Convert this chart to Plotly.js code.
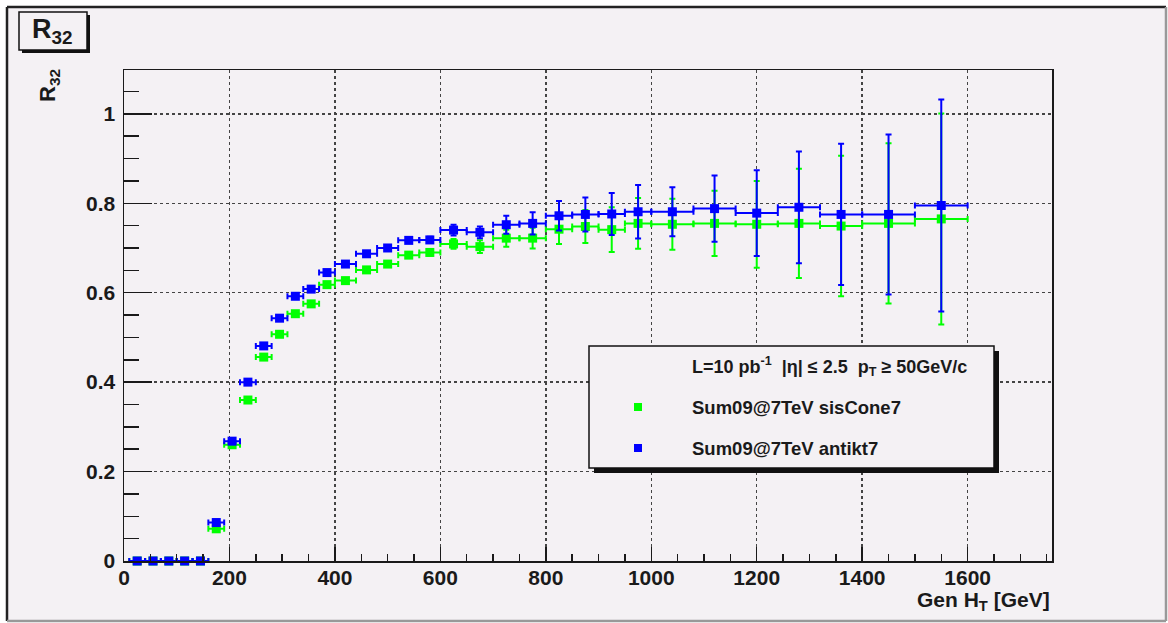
<!DOCTYPE html>
<html><head><meta charset="utf-8">
<script src="https://cdn.plot.ly/plotly-3.0.1.min.js"></script>
<style>html,body{margin:0;padding:0;background:#fff;} #chart{width:1168px;height:623px;}</style>
</head><body><div id="chart"></div>
<script>
// ---- data ----
const htBins = [25,55,85,115,145,175,205,235,265,295,325,355,385,420,460,500,540,580,625,675,725,775,825,875,925,975,1040,1120,1200,1280,1360,1450,1550];
const binHalfWidth = [15,15,15,15,15,15,15,15,15,15,15,15,15,20,20,20,20,20,25,25,25,25,25,25,25,25,40,40,40,40,40,50,50];
const r32SisCone = [0,0,0,0,0,0.072,0.260,0.360,0.456,0.507,0.553,0.575,0.618,0.627,0.651,0.664,0.684,0.690,0.709,0.703,0.722,0.722,0.742,0.748,0.741,0.755,0.753,0.755,0.753,0.755,0.749,0.755,0.765];
const r32SisConeErr = [0,0,0,0,0,0.006,0.005,0.005,0.005,0.005,0.005,0.005,0.005,0.005,0.005,0.006,0.006,0.007,0.011,0.014,0.019,0.023,0.033,0.037,0.05,0.057,0.057,0.073,0.097,0.122,0.157,0.179,0.236];
const r32AntiKt = [0,0,0,0,0,0.086,0.268,0.400,0.481,0.543,0.592,0.608,0.645,0.664,0.687,0.700,0.717,0.718,0.740,0.735,0.752,0.755,0.772,0.775,0.776,0.781,0.781,0.788,0.778,0.791,0.775,0.775,0.795];
const r32AntiKtErr = [0,0,0,0,0,0.006,0.005,0.005,0.005,0.005,0.005,0.005,0.005,0.005,0.005,0.006,0.006,0.007,0.012,0.013,0.02,0.025,0.033,0.038,0.047,0.06,0.055,0.074,0.096,0.125,0.158,0.179,0.237];
const seriesNames = ["Sum09@7TeV sisCone7", "Sum09@7TeV antikt7"];
const seriesColors = ["#00ff00", "#0000ff"];
const xTickVals = [0,200,400,600,800,1000,1200,1400,1600];
const yTickVals = [0,0.2,0.4,0.6,0.8,1];
const legendHeader = "L=10 pb<sup>-1</sup>\u00a0\u00a0|η| ≤ 2.5\u00a0\u00a0p<sub>T</sub> ≥ 50GeV/c";

// ---- layout geometry (pixels) ----
const W = 1168, H = 623, L = 124, R = 1052, T = 70, B = 561;
const PW = R - L, PH = B - T;
const px = x => (x - L) / PW;
const py = y => (B - y) / PH;
const FONT = '"Liberation Sans", Arial, Helvetica, sans-serif';
const BG = '#f4f1f4';
const INK = '#1a1a1a';

function rect(x0, y0, x1, y1, fill, line, lw) {
  return {type: 'rect', xref: 'paper', yref: 'paper', x0: px(x0), x1: px(x1), y0: py(y1), y1: py(y0),
    fillcolor: fill, line: {color: line || fill, width: lw === undefined ? 0 : lw}, layer: 'above'};
}
function seg(x0, y0, x1, y1, color, w, layer) {
  return {type: 'line', xref: 'paper', yref: 'paper', x0: px(x0), x1: px(x1), y0: py(y0), y1: py(y1),
    line: {color: color, width: w}, layer: layer || 'above'};
}
function note(x, y, text, size, xanchor, extra) {
  return Object.assign({xref: 'paper', yref: 'paper', x: px(x), y: py(y), text: text, showarrow: false,
    xanchor: xanchor || 'center', yanchor: 'middle',
    font: {family: FONT, size: size, color: INK, weight: 'bold'}}, extra || {});
}

function trace(y, err, i) {
  return {
    type: 'scatter', mode: 'markers', name: seriesNames[i], x: htBins, y: y,
    marker: {symbol: 'square', size: 9, color: seriesColors[i]},
    error_y: {type: 'data', array: err, visible: true, color: seriesColors[i], thickness: 2, width: 3},
    error_x: {type: 'data', array: binHalfWidth, visible: true, color: seriesColors[i], thickness: 2, width: 3},
    showlegend: false, cliponaxis: false, hoverinfo: 'x+y'
  };
}
const data = [trace(r32SisCone, r32SisConeErr, 0), trace(r32AntiKt, r32AntiKtErr, 1)];

const axisCommon = {
  showline: true, linecolor: INK, linewidth: 1.5, mirror: true,
  ticks: 'inside', tickcolor: INK, tickwidth: 1.5,
  showgrid: true, gridcolor: '#444', griddash: 'dot', gridwidth: 1.5, zeroline: false,
  tickfont: {family: FONT, size: 21, color: INK, weight: 'bold'}, fixedrange: true
};

const layout = {
  width: W, height: H,
  margin: {l: L, r: W - R, t: T, b: H - B, pad: 0},
  paper_bgcolor: '#ffffff', plot_bgcolor: 'rgba(0,0,0,0)',
  showlegend: false,
  xaxis: Object.assign({}, axisCommon, {range: [0, 1760], tickvals: xTickVals, ticklen: 14, ticklabelstandoff: -3,
    minor: {tick0: 0, dtick: 50, ticks: 'inside', ticklen: 7, tickcolor: INK, tickwidth: 1.5, showgrid: false}}),
  yaxis: Object.assign({}, axisCommon, {range: [0, 1.098], tickvals: yTickVals, ticklen: 28, ticklabelstandoff: 3,
    minor: {tick0: 0, dtick: 0.05, ticks: 'inside', ticklen: 15, tickcolor: INK, tickwidth: 1.5, showgrid: false}}),
  shapes: [
    Object.assign(rect(7, 7, 1166, 621, BG), {layer: 'below'}),
    seg(7, 7, 1166, 7, '#222', 2.5, 'below'),
    seg(7, 7, 7, 621, '#222', 2.5, 'below'),
    seg(1166, 7, 1166, 621, '#999', 2.5, 'below'),
    seg(7, 621, 1166, 621, '#999', 2.5, 'below'),
    // title box with shadow
    rect(22, 15, 90, 53, '#111'),
    rect(19, 12, 87, 50, BG, '#111', 1.5),
    // legend box with shadow
    rect(594, 351, 999, 473, '#111'),
    rect(589, 346, 994, 468, BG, '#111', 1.5),
    rect(634, 403, 642, 411, seriesColors[0]),
    rect(634, 444, 642, 452, seriesColors[1])
  ],
  annotations: [
    note(52, 31, 'R<sub>32</sub>', 27),
    note(49, 86, 'R<sub>32</sub>', 22, 'center', {textangle: -90}),
    note(1052, 601, 'Gen H<sub>T</sub> [GeV]', 21, 'right'),
    note(690, 366, legendHeader, 18, 'left'),
    note(690, 407, seriesNames[0], 18.5, 'left'),
    note(690, 448, seriesNames[1], 18.5, 'left')
  ]
};

Plotly.newPlot('chart', data, layout, {displayModeBar: false, staticPlot: true});
</script>
</body></html>
